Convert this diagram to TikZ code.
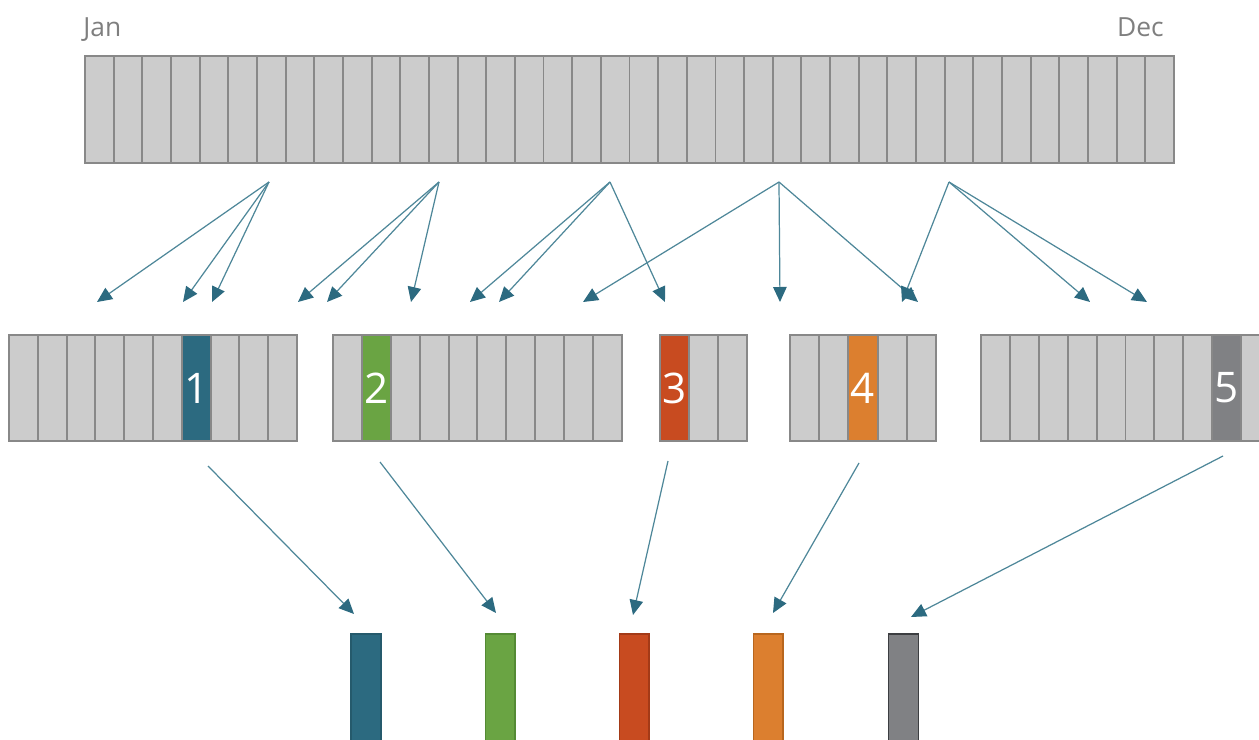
\documentclass[tikz,border=0pt]{standalone}
\usepackage{fontspec}
\setmainfont{Open Sans}
\usetikzlibrary{arrows.meta}
\definecolor{cellfill}{HTML}{CCCCCC}
\definecolor{cellline}{HTML}{888888}
\definecolor{cteal}{HTML}{2C6A80}
\definecolor{cgreen}{HTML}{6AA443}
\definecolor{cred}{HTML}{C84B20}
\definecolor{corange}{HTML}{DC7F2F}
\definecolor{cgray}{HTML}{808184}
\definecolor{dteal}{HTML}{255A6C}
\definecolor{dgreen}{HTML}{548A34}
\definecolor{dred}{HTML}{A33A17}
\definecolor{dorange}{HTML}{B8661E}
\definecolor{dgray}{HTML}{3C3E41}
\definecolor{arrline}{HTML}{4E8799}
\definecolor{arrhead}{HTML}{2C6A80}
\definecolor{labelgray}{HTML}{7F7F7F}
\begin{document}
\begin{tikzpicture}[x=0.02cm,y=-0.02cm,
  cell/.style={rectangle, draw=cellline, fill=cellfill, line width=1.1pt, inner sep=0pt,
    anchor=north west, minimum height=2.12cm},
  topcell/.style={cell, minimum height=2.14cm, minimum width=0.5732cm},
  num/.style={text=white, font=\fontsize{24}{24}\selectfont},
  month/.style={text=labelgray, font=\fontsize{15}{15}\selectfont, inner sep=0pt},
  outbar/.style={rectangle, line width=1.1pt, inner sep=0pt, anchor=north west,
    minimum width=0.6cm, minimum height=2.4cm},
  arr/.style={draw=arrline, line width=0.7pt,
    -{Triangle[length=0.3cm,width=0.27cm,color=arrhead]}}]
\useasboundingbox (0,0) rectangle (1259,740);
\clip (0,0) rectangle (1259,740);

% month labels
\node[month, anchor=base west] (jan) at (83,37) {Jan};
\node[month, anchor=base east] (dec) at (1164,37) {Dec};

% top bar: 38 cells
\foreach \i in {1,...,38}
  \node[topcell] (t\i) at ({84+(\i-1)*28.66},55) {};

% group 1
\foreach \i in {1,...,10}
  \node[cell, minimum width=0.576cm] (a\i) at ({8+(\i-1)*28.8},334) {};
\node[cell, fill=cteal, minimum width=0.576cm, num] (h1) at ({8+6*28.8},334) {1};

% group 2
\foreach \i in {1,...,10}
  \node[cell, minimum width=0.578cm] (b\i) at ({332+(\i-1)*28.9},334) {};
\node[cell, fill=cgreen, minimum width=0.578cm, num] (h2) at ({332+1*28.9},334) {2};

% group 3
\foreach \i in {1,...,3}
  \node[cell, minimum width=0.58cm] (c\i) at ({659+(\i-1)*29},334) {};
\node[cell, fill=cred, minimum width=0.58cm, num] (h3) at (659,334) {3};

% group 4
\foreach \i in {1,...,5}
  \node[cell, minimum width=0.584cm] (d\i) at ({789+(\i-1)*29.2},334) {};
\node[cell, fill=corange, minimum width=0.584cm, num] (h4) at ({789+2*29.2},334) {4};

% group 5
\foreach \i in {1,...,10}
  \node[cell, minimum width=0.578cm] (e\i) at ({980+(\i-1)*28.9},334) {};
\node[cell, fill=cgray, minimum width=0.578cm, num] (h5) at ({980+8*28.9},334) {5};

% output bars
\node[outbar, fill=cteal, draw=dteal] (o1) at (350,633) {};
\node[outbar, fill=cgreen, draw=dgreen] (o2) at (484.5,633) {};
\node[outbar, fill=cred, draw=dred] (o3) at (618.5,633) {};
\node[outbar, fill=corange, draw=dorange] (o4) at (752.5,633) {};
\node[outbar, fill=cgray, draw=dgray] (o5) at (887.5,633) {};

% top arrow sources and tips
\coordinate (s1) at (269,182);
\coordinate (s2) at (439,182);
\coordinate (s3) at (610,182);
\coordinate (s4) at (779,182);
\coordinate (s5) at (949,182);
\foreach \n/\x in {p1/97,p2/183,p3/212,p4/298,p5/327,p6/411,p7/470,p8/499,p9/665,
                   p10/583,p11/780,p12/918,p13/902,p14/1090,p15/1147}
  \coordinate (\n) at (\x,302);

\draw[arr] (s1) -- (p1);
\draw[arr] (s1) -- (p2);
\draw[arr] (s1) -- (p3);
\draw[arr] (s2) -- (p4);
\draw[arr] (s2) -- (p5);
\draw[arr] (s2) -- (p6);
\draw[arr] (s3) -- (p7);
\draw[arr] (s3) -- (p8);
\draw[arr] (s3) -- (p9);
\draw[arr] (s4) -- (p10);
\draw[arr] (s4) -- (p11);
\draw[arr] (s4) -- (p12);
\draw[arr] (s5) -- (p13);
\draw[arr] (s5) -- (p14);
\draw[arr] (s5) -- (p15);

% lower arrows
\coordinate (u1) at (208,466);  \coordinate (v1) at (354,614);
\coordinate (u2) at (380,462);  \coordinate (v2) at (496,613);
\coordinate (u3) at (668,461);  \coordinate (v3) at (633,615);
\coordinate (u4) at (859,463);  \coordinate (v4) at (773,613);
\coordinate (u5) at (1223,456); \coordinate (v5) at (911,617);
\foreach \k in {1,...,5}
  \draw[arr] (u\k) -- (v\k);
\end{tikzpicture}
\end{document}
